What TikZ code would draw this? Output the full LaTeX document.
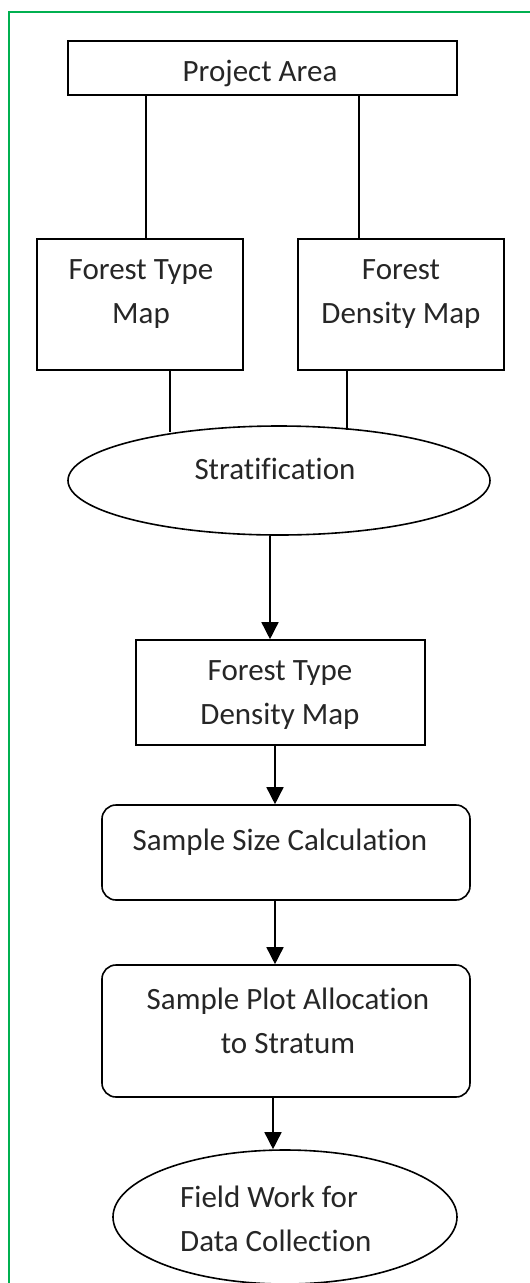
\documentclass[tikz,border=0pt]{standalone}
\usepackage{fontspec}
\setmainfont{Carlito}[Ligatures={NoCommon}]
\usetikzlibrary{arrows.meta,shapes.geometric}
\definecolor{framegreen}{RGB}{0,176,80}
\tikzset{
  outlined/.style={draw=black, line width=1.6pt, inner sep=0pt, fill=none},
  boxshape/.style={outlined, rectangle},
  roundbox/.style={outlined, rectangle, rounded corners=14pt},
  ovalshape/.style={outlined, ellipse},
  txt/.style={inner sep=0pt, align=center, font=\fontsize{31}{44}\selectfont, text=black!85},
  link/.style={draw=black, line width=1.5pt},
  arrowlink/.style={link, -{Triangle[length=17pt,width=17pt]}},
}
\begin{document}
\begin{tikzpicture}[x=1pt,y=-1pt]
\useasboundingbox (0,0) rectangle (530,1283);
\clip (0,0) rectangle (530,1283);
\draw[framegreen, line width=1.6pt] (9,12) rectangle (560,1320);

% shapes
\node[boxshape, minimum width=389pt, minimum height=54pt] (pa) at (262.5,68) {};
\node[boxshape, minimum width=206pt, minimum height=131pt] (ftm) at (140,304.5) {};
\node[boxshape, minimum width=206pt, minimum height=131pt] (fdm) at (401,304.5) {};
\node[ovalshape, minimum width=422pt, minimum height=109pt] (str) at (279,480.5) {};
\node[boxshape, minimum width=289pt, minimum height=105pt] (ftdm) at (280.5,692.5) {};
\node[roundbox, minimum width=368pt, minimum height=95pt] (ssc) at (286,852.5) {};
\node[roundbox, minimum width=368pt, minimum height=132pt] (spa) at (286,1031) {};
\node[ovalshape, minimum width=344pt, minimum height=134pt] (fw) at (285,1217) {};

% texts
\node[txt] (tpa) at (260,73.5) {Project Area};
\node[txt] (tftm) at (141,294.5) {Forest Type\\Map};
\node[txt] (tfdm) at (401,294.5) {Forest\\Density Map};
\node[txt] (tstr) at (275,469) {Stratification};
\node[txt] (tftdm) at (280,695.5) {Forest Type\\Density Map};
\node[txt] (tssc) at (280,842.5) {Sample Size Calculation};
\node[txt] (tspa) at (288,1021) {Sample Plot Allocation\\to Stratum};
\node[txt, align=left, anchor=west] (tfw) at (180,1219) {Field Work for\\Data Collection};

% connector guides
\coordinate (c1) at (146,0);
\coordinate (c2) at (359,0);
\coordinate (c3) at (170,0);
\coordinate (c4) at (347,0);
\coordinate (e3) at (170,432);
\coordinate (e4) at (347,430);
\coordinate (c5) at (270,0);
\coordinate (c6) at (275,0);
\coordinate (c7) at (275,0);
\coordinate (c8) at (273,0);

\draw[link] (pa.south -| c1) -- (ftm.north -| c1);
\draw[link] (pa.south -| c2) -- (fdm.north -| c2);
\draw[link] (ftm.south -| c3) -- (e3);
\draw[link] (fdm.south -| c4) -- (e4);
\draw[arrowlink] (str.south -| c5) -- (ftdm.north -| c5);
\draw[arrowlink] (ftdm.south -| c6) -- (ssc.north -| c6);
\draw[arrowlink] (ssc.south -| c7) -- (spa.north -| c7);
\draw[arrowlink] (spa.south -| c8) -- (fw.north -| c8);
\end{tikzpicture}
\end{document}
